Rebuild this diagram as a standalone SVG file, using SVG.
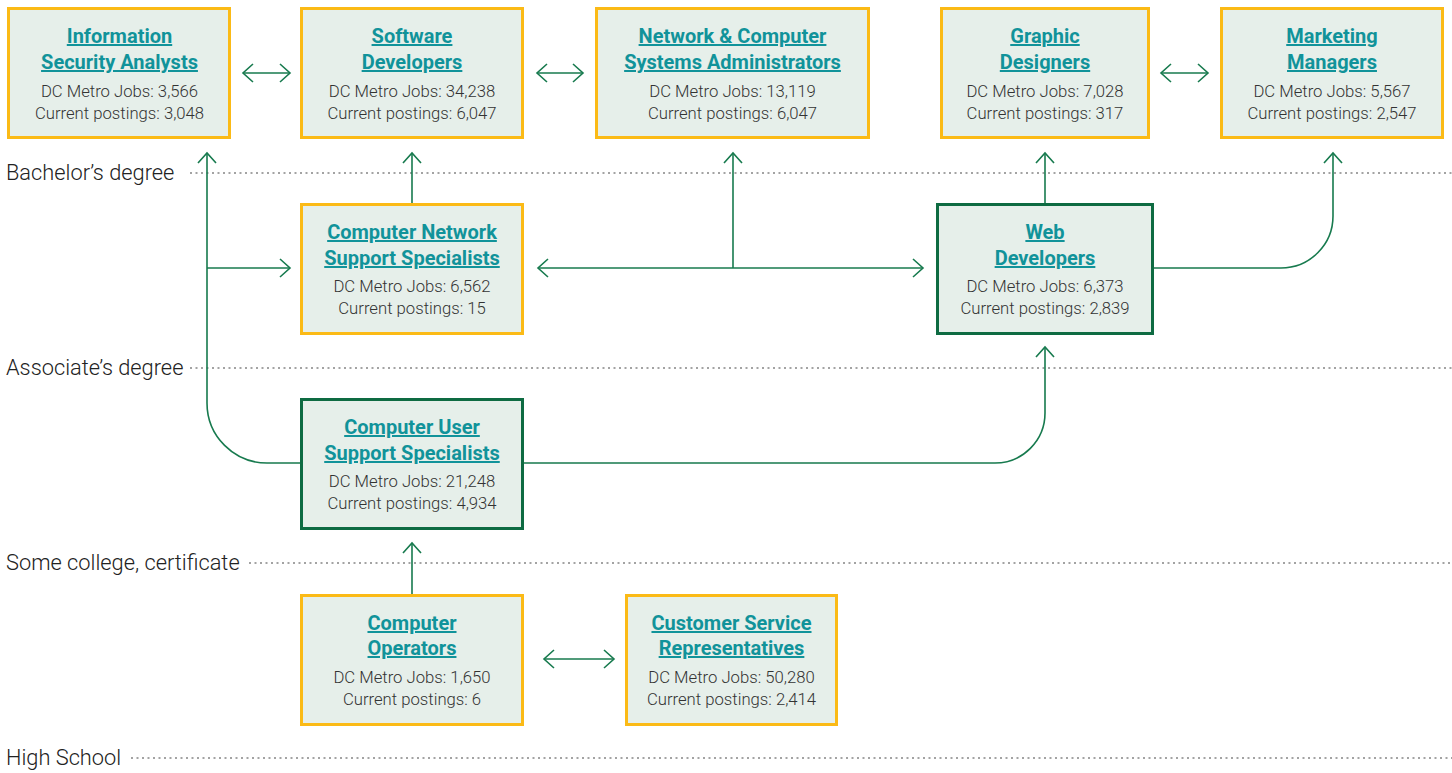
<svg xmlns="http://www.w3.org/2000/svg" width="1452" height="773" viewBox="0 0 1452 773">
<style>
  .bg{fill:#ffffff}
  .box{fill:#E6EFEA;stroke:#FBBA16;stroke-width:3}
  .boxg{fill:#E6EFEA;stroke:#0E6B42;stroke-width:3}
  .t{font-family:Roboto,"Liberation Sans",sans-serif;font-weight:700;font-size:20px;fill:#11939A;text-decoration:underline;text-anchor:middle}
  .b{font-family:Roboto,"Liberation Sans",sans-serif;font-weight:300;font-size:16.7px;fill:#333333;text-anchor:middle}
  .lvl{font-family:Roboto,"Liberation Sans",sans-serif;font-weight:300;font-size:21.8px;fill:#222222}
  .dot{stroke:#A3A3A3;stroke-width:2;stroke-dasharray:2 3.5;fill:none}
  .c{fill:none;stroke:#177A4E;stroke-width:1.6}
</style>
<defs>
  <marker id="ah" markerUnits="userSpaceOnUse" viewBox="-12 -11 14 22" refX="0" refY="0" markerWidth="14" markerHeight="22" orient="auto-start-reverse">
    <path d="M-10,-9 L0,0 L-10,9" fill="none" stroke="#177A4E" stroke-width="1.6"/>
  </marker>
</defs>
<rect class="bg" x="0" y="0" width="1452" height="773"/>

<g id="levels">
  <text class="lvl" x="6" y="180">Bachelor’s degree</text>
  <line class="dot" x1="190" y1="173" x2="1452" y2="173"/>
  <text class="lvl" x="6" y="375">Associate’s degree</text>
  <line class="dot" x1="190" y1="368" x2="1452" y2="368"/>
  <text class="lvl" x="6" y="570">Some college, certificate</text>
  <line class="dot" x1="249" y1="563" x2="1452" y2="563"/>
  <text class="lvl" x="6" y="765">High School</text>
  <line class="dot" x1="131" y1="758" x2="1452" y2="758"/>
</g>

<g id="connectors">
  <path class="c" d="M300,463 H267 A60,60 0 0 1 207,403 V153" marker-end="url(#ah)"/>
  <path class="c" d="M207,268 H290" marker-end="url(#ah)"/>
  <path class="c" d="M524,463 H995 A50,50 0 0 0 1045,413 V347" marker-end="url(#ah)"/>
  <path class="c" d="M538,268 H923" marker-start="url(#ah)" marker-end="url(#ah)"/>
  <path class="c" d="M733,268 V153" marker-end="url(#ah)"/>
  <path class="c" d="M412,203 V153" marker-end="url(#ah)"/>
  <path class="c" d="M1045,203 V153" marker-end="url(#ah)"/>
  <path class="c" d="M1154,268 H1281 A52,52 0 0 0 1333,216 V153" marker-end="url(#ah)"/>
  <path class="c" d="M412,594 V543" marker-end="url(#ah)"/>
  <path class="c" d="M243,73 H290" marker-start="url(#ah)" marker-end="url(#ah)"/>
  <path class="c" d="M537,73 H583" marker-start="url(#ah)" marker-end="url(#ah)"/>
  <path class="c" d="M1161,73 H1208" marker-start="url(#ah)" marker-end="url(#ah)"/>
  <path class="c" d="M544,659 H614" marker-start="url(#ah)" marker-end="url(#ah)"/>
</g>

<g id="info-security-analysts">
  <rect class="box" x="8.5" y="8.5" width="221" height="129"/>
  <text class="t" x="119.5" y="43">Information</text>
  <text class="t" x="119.5" y="69">Security Analysts</text>
  <text class="b" x="119.5" y="96.5">DC Metro Jobs: 3,566</text>
  <text class="b" x="119.5" y="118.5">Current postings: 3,048</text>
</g>
<g id="software-developers">
  <rect class="box" x="301.5" y="8.5" width="221" height="129"/>
  <text class="t" x="412" y="43">Software</text>
  <text class="t" x="412" y="69">Developers</text>
  <text class="b" x="412" y="96.5">DC Metro Jobs: 34,238</text>
  <text class="b" x="412" y="118.5">Current postings: 6,047</text>
</g>
<g id="network-computer-systems-administrators">
  <rect class="box" x="596.5" y="8.5" width="272" height="129"/>
  <text class="t" x="732.5" y="43">Network &amp; Computer</text>
  <text class="t" x="732.5" y="69">Systems Administrators</text>
  <text class="b" x="732.5" y="96.5">DC Metro Jobs: 13,119</text>
  <text class="b" x="732.5" y="118.5">Current postings: 6,047</text>
</g>
<g id="graphic-designers">
  <rect class="box" x="941.5" y="8.5" width="207" height="129"/>
  <text class="t" x="1045" y="43">Graphic</text>
  <text class="t" x="1045" y="69">Designers</text>
  <text class="b" x="1045" y="96.5">DC Metro Jobs: 7,028</text>
  <text class="b" x="1045" y="118.5">Current postings: 317</text>
</g>
<g id="marketing-managers">
  <rect class="box" x="1221.5" y="8.5" width="221" height="129"/>
  <text class="t" x="1332" y="43">Marketing</text>
  <text class="t" x="1332" y="69">Managers</text>
  <text class="b" x="1332" y="96.5">DC Metro Jobs: 5,567</text>
  <text class="b" x="1332" y="118.5">Current postings: 2,547</text>
</g>
<g id="computer-network-support-specialists">
  <rect class="box" x="301.5" y="204.5" width="221" height="129"/>
  <text class="t" x="412" y="239">Computer Network</text>
  <text class="t" x="412" y="265">Support Specialists</text>
  <text class="b" x="412" y="292">DC Metro Jobs: 6,562</text>
  <text class="b" x="412" y="314">Current postings: 15</text>
</g>
<g id="web-developers">
  <rect class="boxg" x="937.5" y="204.5" width="215" height="129"/>
  <text class="t" x="1045" y="239">Web</text>
  <text class="t" x="1045" y="265">Developers</text>
  <text class="b" x="1045" y="292">DC Metro Jobs: 6,373</text>
  <text class="b" x="1045" y="314">Current postings: 2,839</text>
</g>
<g id="computer-user-support-specialists">
  <rect class="boxg" x="301.5" y="399.5" width="221" height="129"/>
  <text class="t" x="412" y="434">Computer User</text>
  <text class="t" x="412" y="460">Support Specialists</text>
  <text class="b" x="412" y="487">DC Metro Jobs: 21,248</text>
  <text class="b" x="412" y="509">Current postings: 4,934</text>
</g>
<g id="computer-operators">
  <rect class="box" x="301.5" y="595.5" width="221" height="129"/>
  <text class="t" x="412" y="630">Computer</text>
  <text class="t" x="412" y="655">Operators</text>
  <text class="b" x="412" y="683">DC Metro Jobs: 1,650</text>
  <text class="b" x="412" y="705">Current postings: 6</text>
</g>
<g id="customer-service-representatives">
  <rect class="box" x="626.5" y="595.5" width="210" height="129"/>
  <text class="t" x="731.5" y="630">Customer Service</text>
  <text class="t" x="731.5" y="655">Representatives</text>
  <text class="b" x="731.5" y="683">DC Metro Jobs: 50,280</text>
  <text class="b" x="731.5" y="705">Current postings: 2,414</text>
</g>
</svg>
